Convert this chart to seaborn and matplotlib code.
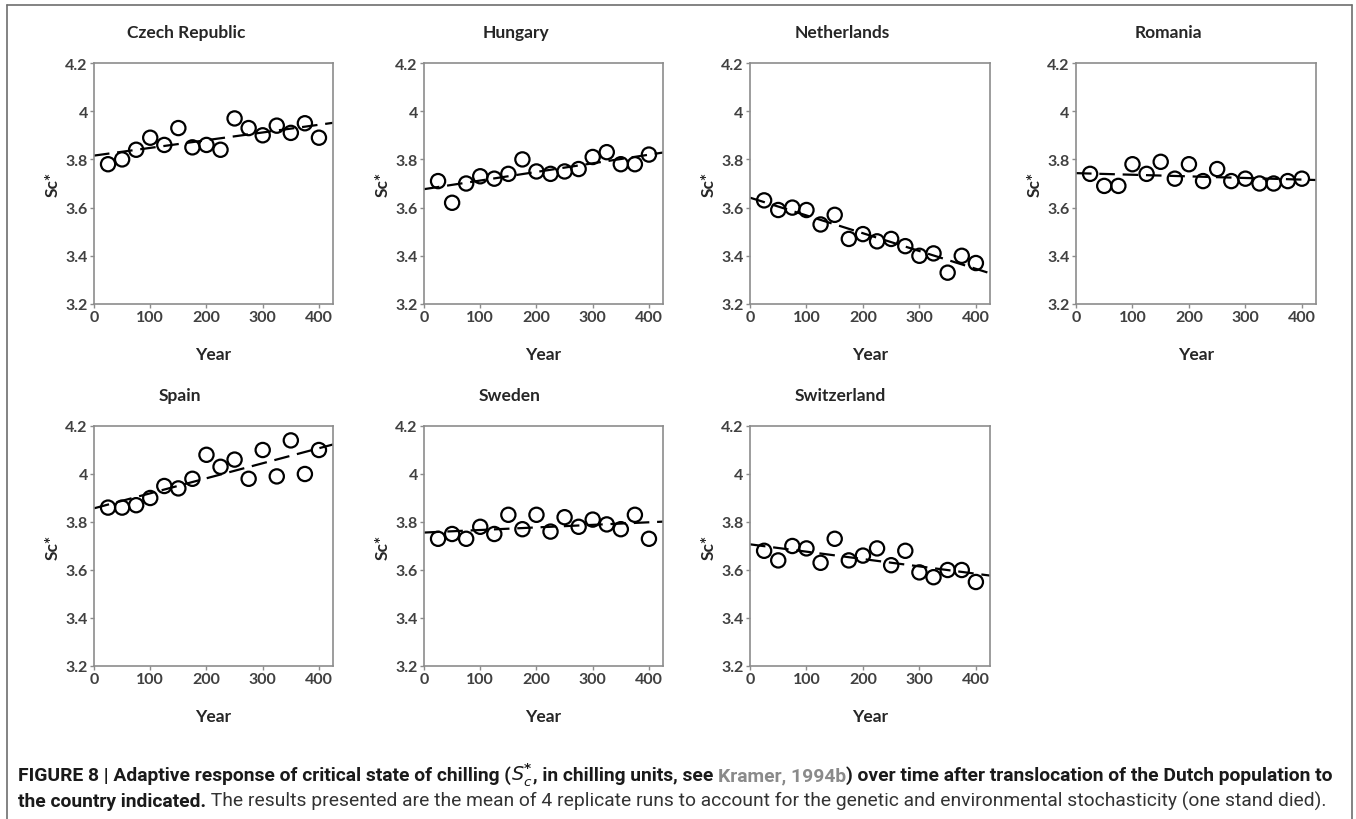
import numpy as np
import pandas as pd
import matplotlib
matplotlib.use("Agg")
import matplotlib.pyplot as plt
import seaborn as sns
from matplotlib.lines import Line2D

# generation years (x), same for every country
years = [25, 50, 75, 100, 125, 150, 175, 200, 225, 250, 275, 300, 325, 350, 375, 400]

# mean Sc* per country
czech = [3.78, 3.80, 3.84, 3.89, 3.86, 3.93, 3.85, 3.86, 3.84, 3.97, 3.93, 3.90, 3.94, 3.91, 3.95, 3.89]
hungary = [3.71, 3.62, 3.70, 3.73, 3.72, 3.74, 3.80, 3.75, 3.74, 3.75, 3.76, 3.81, 3.83, 3.78, 3.78, 3.82]
netherlands = [3.63, 3.59, 3.60, 3.59, 3.53, 3.57, 3.47, 3.49, 3.46, 3.47, 3.44, 3.40, 3.41, 3.33, 3.40, 3.37]
romania = [3.74, 3.69, 3.69, 3.78, 3.74, 3.79, 3.72, 3.78, 3.71, 3.76, 3.71, 3.72, 3.70, 3.70, 3.71, 3.72]
spain = [3.86, 3.86, 3.87, 3.90, 3.95, 3.94, 3.98, 4.08, 4.03, 4.06, 3.98, 4.10, 3.99, 4.14, 4.00, 4.10]
sweden = [3.73, 3.75, 3.73, 3.78, 3.75, 3.83, 3.77, 3.83, 3.76, 3.82, 3.78, 3.81, 3.79, 3.77, 3.83, 3.73]
switzerland = [3.68, 3.64, 3.70, 3.69, 3.63, 3.73, 3.64, 3.66, 3.69, 3.62, 3.68, 3.59, 3.57, 3.60, 3.60, 3.55]

countries = ["Czech Republic", "Hungary", "Netherlands", "Romania", "Spain", "Sweden", "Switzerland"]
values = [czech, hungary, netherlands, romania, spain, sweden, switzerland]

yticks = [3.2, 3.4, 3.6, 3.8, 4.0, 4.2]
ytick_labels = ["3.2", "3.4", "3.6", "3.8", "4", "4.2"]
xticks = [0, 100, 200, 300, 400]

df = pd.concat([pd.DataFrame({"country": c, "year": years, "sc": v})
                for c, v in zip(countries, values)], ignore_index=True)

sns.set_theme(style="white")
plt.rcParams["font.family"] = ["Lato", "DejaVu Sans"]

W, H = 1356, 820
fig = plt.figure(figsize=(W / 100, H / 100), dpi=100)

# pixel boxes of the axes (left, right) per column, (top, bottom) per row
cols = [(94, 333), (424, 663), (750, 990), (1076, 1316)]
rows = [(64, 305), (427, 667)]
title_x = [186, 516, 842, 1168, 180, 510, 840]
title_y = [33, 396]

tick_col = "#404040"
spine_col = "#8c8c8c"

for i, c in enumerate(countries):
    r, k = divmod(i, 4)
    x0, x1 = cols[k]
    t0, t1 = rows[r]
    ax = fig.add_axes([x0 / W, 1 - t1 / H, (x1 - x0) / W, (t1 - t0) / H])
    sub = df[df["country"] == c]
    ax.set_xlim(0, 425)
    ax.set_ylim(3.2, 4.2)
    sns.regplot(data=sub, x="year", y="sc", ax=ax, scatter=False, ci=None,
                truncate=False,
                line_kws=dict(color="black", lw=1.6, ls=(0, (7, 3.5))))
    sns.scatterplot(data=sub, x="year", y="sc", ax=ax, marker="o", s=105,
                    facecolor="none", edgecolor="black", linewidth=1.6, zorder=3)
    ax.set_xlim(0, 425)
    ax.set_ylim(3.2, 4.2)
    ax.set_xticks(xticks)
    ax.set_yticks(yticks)
    ax.set_yticklabels(ytick_labels)
    ax.tick_params(axis="both", which="major", length=3, width=1, color=spine_col,
                   labelsize=11.5, labelcolor=tick_col, pad=1.5, direction="out",
                   left=True, bottom=True)
    for lab in ax.get_xticklabels() + ax.get_yticklabels():
        lab.set_fontweight("bold")
    for s in ax.spines.values():
        s.set_color(spine_col)
        s.set_linewidth(1.2)
    ax.set_xlabel("Year", fontsize=12.5, fontweight="bold", color="#262626", labelpad=16)
    ax.set_ylabel("Sc*", fontsize=12.5, fontweight="bold", color="#262626", labelpad=3)
    fig.text(title_x[i] / W, 1 - title_y[r] / H, c, ha="center", va="center",
             fontsize=12.5, fontweight="bold", color="#262626")

# outer frame (left, top, right)
frame_col = "#6e6e6e"
fig.add_artist(Line2D([7 / W, 7 / W], [0, 1 - 6 / H], color=frame_col, lw=1.2, transform=fig.transFigure))
fig.add_artist(Line2D([7 / W, 1352 / W], [1 - 6 / H, 1 - 6 / H], color=frame_col, lw=1.2, transform=fig.transFigure))
fig.add_artist(Line2D([1352 / W, 1352 / W], [0, 1 - 6 / H], color=frame_col, lw=1.2, transform=fig.transFigure))

# caption, built from pieces so bold / regular / grey parts can sit on one line
cap_family = ["Liberation Sans Narrow", "Roboto", "DejaVu Sans"]
line1 = [("FIGURE 8 | Adaptive response of critical state of chilling (", "bold", "#1a1a1a"),
         (r"$\mathbf{\mathit{S}}_{\mathbf{\mathit{c}}}^{\mathbf{*}}$", "bold", "#1a1a1a"),
         (", in chilling units, see ", "bold", "#1a1a1a"),
         ("Kramer, 1994b", "bold", "#8a8a8a"),
         (") over time after translocation of the Dutch population to", "bold", "#1a1a1a")]
line2 = [("the country indicated.", "bold", "#1a1a1a"),
         (" The results presented are the mean of 4 replicate runs to account for the genetic and environmental stochasticity (one stand died).", "normal", "#333333")]


def place(pieces, x_px, y_px, size):
    renderer = fig.canvas.get_renderer()
    x = x_px
    arts = []
    for txt, wt, col in pieces:
        t = fig.text(x / W, 1 - y_px / H, txt, ha="left", va="baseline",
                     fontsize=size, fontweight=wt, color=col, family=cap_family)
        bb = t.get_window_extent(renderer=renderer)
        x += bb.width
        arts.append(t)
    return arts, x - x_px


size = 11.5
arts, w1 = place(line1, 18, 781, size)
target = 1320
if abs(w1 - target) > 5:
    for a in arts:
        a.remove()
    size = size * target / w1
    arts, w1 = place(line1, 18, 781, size)
place(line2, 18, 807, size)

fig.savefig("out.png", dpi=100)
